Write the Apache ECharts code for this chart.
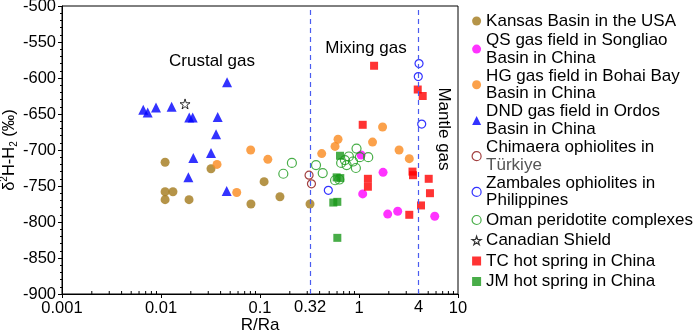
<!DOCTYPE html>
<html>
<head>
<meta charset="utf-8">
<title>δ2H-H2 vs R/Ra</title>
<script src="https://cdn.jsdelivr.net/npm/echarts@6/dist/echarts.min.js"></script>
<style>
  html, body { margin: 0; padding: 0; background: #fff; }
  #chart { width: 700px; height: 332px; }
</style>
</head>
<body>
<div id="chart"></div>
<script>
// [R/Ra, δ2H-H2 ‰]
const kansas = [[0.011, -717], [0.011, -769], [0.011, -758], [0.0132, -758], [0.0192, -769], [0.032, -726],
  [0.081, -775], [0.11, -744], [0.159, -765], [0.32, -775]]
const qs = [[1.05, -707], [1.75, -731], [1.09, -761], [1.95, -789], [2.46, -785], [5.82, -792]]
const hg = [[0.0368, -720], [0.0582, -759], [0.0805, -700], [0.12, -713], [0.42, -705], [0.573, -695],
  [0.614, -685], [1.37, -689], [1.73, -668], [2.54, -700], [3.22, -712]]
const dnd = [[0.00662, -644], [0.00734, -648], [0.0089, -641], [0.0128, -640], [0.0193, -655], [0.0209, -655],
  [0.0374, -654], [0.036, -678], [0.032, -704], [0.0212, -711], [0.0189, -738], [0.0461, -757], [0.0465, -606]]
const chimaera = [[0.313, -735], [0.331, -747]]
const zambales = [[4.04, -580], [3.97, -598], [4.3, -664], [0.49, -756]]
const oman = [[0.172, -733], [0.21, -718], [0.368, -721], [0.43, -732], [0.573, -742], [0.633, -741],
  [0.944, -698], [1.24, -710], [1.02, -710], [0.87, -716], [0.79, -709], [0.75, -721], [0.93, -725],
  [0.72, -714], [0.66, -718]]
const canadian = [[0.0175, -636]]
const tc = [[1.42, -583], [3.92, -616], [4.4, -625], [1.09, -665], [1.23, -740], [1.23, -751], [3.47, -730],
  [3.51, -735], [5.06, -740], [5.21, -760], [4.23, -777], [3.22, -790]]
const jm = [[0.643, -708], [0.595, -738], [0.647, -739], [0.55, -773], [0.604, -772], [0.604, -822]]

const boundaryLines = [0.32, 4]
const xMin = 0.001
const xMax = 10
const yMin = -900
const yMax = -500
const yStep = 50

const names = [
  'Kansas Basin in the USA',
  'QS gas field in Songliao\nBasin in China',
  'HG gas field in Bohai Bay\nBasin in China',
  'DND gas field in Ordos\nBasin in China',
  'Chimaera ophiolites in\nTürkiye',
  'Zambales ophiolites in\nPhilippines',
  'Oman peridotite complexes',
  'Canadian Shield',
  'TC hot spring in China',
  'JM hot spring in China'
]
const outlined = [names[4], names[5], names[6], names[7]]

// log-spaced minor ticks (2..9 in each decade)
const xMinorTicks = []
for (let e = -3; e < 1; e++) {
  for (let m = 2; m <= 9; m++) {
    xMinorTicks.push(+(m * Math.pow(10, e)).toPrecision(3))
  }
}

const font = 'Arial, "Liberation Sans", sans-serif'
const starPath = 'path://M50,0 L61,35 L98,35 L68,57 L79,91 L50,70 L21,91 L32,57 L2,35 L39,35 Z'

function scatter(name, data, symbol, size, itemStyle) {
  return {
    name: name,
    type: 'scatter',
    data: data,
    symbol: symbol,
    symbolSize: size,
    itemStyle: itemStyle,
    emphasis: { disabled: true }
  }
}

const chart = echarts.init(document.getElementById('chart'))

const series = [
  scatter(names[0], kansas, 'circle', 9, { color: '#A2791A' }),
  scatter(names[1], qs, 'circle', 9, { color: '#FF00FF' }),
  scatter(names[2], hg, 'circle', 9, { color: '#FA8A1E' }),
  scatter(names[3], dnd, 'triangle', 10, { color: '#0000FF' }),
  scatter(names[4], chimaera, 'circle', 8, { color: 'rgba(0,0,0,0)', borderColor: '#8B1010', borderWidth: 1.2 }),
  scatter(names[5], zambales, 'circle', 8, { color: 'rgba(0,0,0,0)', borderColor: '#0000FF', borderWidth: 1.2 }),
  scatter(names[6], oman, 'circle', 9, { color: 'rgba(0,0,0,0)', borderColor: '#1A9A1A', borderWidth: 1.2 }),
  scatter(names[7], canadian, starPath, 10, { color: '#fff', borderColor: '#000', borderWidth: 1 }),
  scatter(names[8], tc, 'rect', 8, { color: '#FF0000' }),
  scatter(names[9], jm, 'rect', 8, { color: '#1A991A' })
]

series[0].markLine = {
  silent: true,
  symbol: 'none',
  animation: false,
  lineStyle: { color: '#4A5CF0', type: [5, 4], width: 1.2 },
  label: {
    show: true,
    position: 'start',
    distance: 5,
    color: '#000',
    fontSize: 16.5,
    fontFamily: font,
    formatter(p) {
      return String(p.value)
    }
  },
  emphasis: { disabled: true },
  data: boundaryLines.map(v => ({ xAxis: v }))
}

series.push({
  type: 'custom',
  silent: true,
  clip: false,
  data: xMinorTicks.map(v => [v, yMin]),
  renderItem(params, api) {
    const p = api.coord([api.value(0), api.value(1)])
    return {
      type: 'line',
      shape: { x1: p[0], y1: p[1], x2: p[0], y2: p[1] - 3 },
      style: { stroke: '#000', lineWidth: 1 }
    }
  }
})

const option = {
  animation: false,
  backgroundColor: '#fff',
  textStyle: { fontFamily: font },
  grid: {
    left: 62,
    right: 242,
    top: 6,
    bottom: 38,
    show: true,
    borderColor: '#000',
    borderWidth: 1,
    backgroundColor: 'transparent',
    outerBoundsMode: 'none'
  },
  legend: {
    orient: 'vertical',
    left: 471.5,
    top: 11,
    padding: 0,
    itemWidth: 9,
    itemHeight: 9,
    itemGap: 0.5,
    selectedMode: false,
    textStyle: {
      fontSize: 17,
      lineHeight: 17.6,
      color: '#000',
      fontFamily: font,
      rich: {
        one: { fontSize: 17, lineHeight: 20, color: '#000', fontFamily: font },
        g: { fontSize: 17, lineHeight: 17.6, color: '#555', fontFamily: font }
      }
    },
    formatter(name) {
      if (name === names[4]) {
        return 'Chimaera ophiolites in\n{g|Türkiye}'
      }
      if (name.indexOf('\n') < 0) {
        return '{one|' + name + '}'
      }
      return name
    },
    data: names.map(n => (outlined.indexOf(n) >= 0 ? { name: n, itemStyle: { borderWidth: 1.2 } } : n))
  },
  graphic: [
    {
      type: 'text',
      x: 212,
      y: 61,
      style: { text: 'Crustal gas', fill: '#000', font: '17px ' + font, align: 'center', verticalAlign: 'middle' }
    },
    {
      type: 'text',
      x: 366,
      y: 48,
      style: { text: 'Mixing gas', fill: '#000', font: '17px ' + font, align: 'center', verticalAlign: 'middle' }
    },
    {
      type: 'text',
      x: 444,
      y: 129,
      rotation: -Math.PI / 2,
      style: { text: 'Mantle gas', fill: '#000', font: '17px ' + font, align: 'center', verticalAlign: 'middle' }
    }
  ],
  xAxis: {
    type: 'log',
    logBase: 10,
    min: xMin,
    max: xMax,
    name: 'R/Ra',
    nameLocation: 'middle',
    nameGap: 23,
    nameMoveOverlap: false,
    nameTextStyle: { color: '#000', fontSize: 17, fontFamily: font },
    axisLine: { lineStyle: { color: '#000', width: 1 } },
    axisTick: { length: 4, lineStyle: { color: '#000' } },
    axisLabel: { color: '#000', fontSize: 16.5, margin: 6, fontFamily: font },
    splitLine: { show: false }
  },
  yAxis: {
    type: 'value',
    min: yMin,
    max: yMax,
    interval: yStep,
    name: '{t|δ}{s|2}{t|H-H}{b|2}{t| (‰)}',
    nameLocation: 'middle',
    nameGap: 43,
    nameMoveOverlap: false,
    nameTextStyle: {
      color: '#000',
      rich: {
        t: { fontSize: 16.5, lineHeight: 20, color: '#000', fontFamily: font },
        s: { fontSize: 10, lineHeight: 10, verticalAlign: 'top', color: '#000', fontFamily: font },
        b: { fontSize: 10, lineHeight: 10, verticalAlign: 'bottom', color: '#000', fontFamily: font }
      }
    },
    axisLine: { show: true, lineStyle: { color: '#000', width: 1 } },
    axisTick: { show: true, length: 4, lineStyle: { color: '#000' } },
    minorTick: { show: true, splitNumber: 5, length: 2, lineStyle: { color: '#000' } },
    axisLabel: { color: '#000', fontSize: 16.5, margin: 6, fontFamily: font },
    splitLine: { show: false }
  },
  series: series
}

chart.setOption(option)
</script>
</body>
</html>
